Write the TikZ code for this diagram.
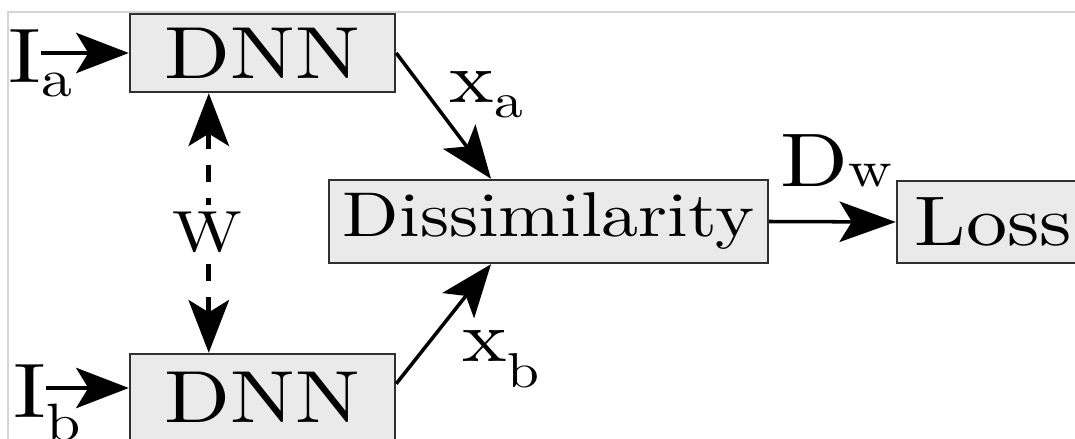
\documentclass[tikz,border=0pt]{standalone}
\usepackage{tikz}
\usetikzlibrary{arrows.meta, positioning, calc}
\definecolor{boxGray}{HTML}{EAEAEA}
\definecolor{frameGray}{HTML}{D4D4D4}
\definecolor{edgeDark}{HTML}{303030}
% text set at 10pt, then blown up (and stretched sideways)
\newcommand{\wide}[2]{\scalebox{\fpeval{1.17*#1}}[#1]{\fontsize{10}{12}\selectfont #2}}
\newcommand{\lab}[4]{\wide{#1}{#2\raisebox{-#4}{\scalebox{0.68}{#3}}}}

\begin{document}
\begin{tikzpicture}[x=0.1mm, y=-0.1mm,
      box/.style={draw=edgeDark, fill=boxGray, line width=0.7pt, inner sep=0pt},
      lbl/.style={inner sep=0pt, anchor=base west},
      arr/.style={-{Stealth[length=15pt, width=11.5pt, inset=3.5pt]}, line width=1pt},
      wdash/.style={{Stealth[length=15pt, width=11.5pt, inset=3.5pt]}-{Stealth[length=15pt, width=11.5pt, inset=3.5pt]},
        line width=1.3pt, dash pattern=on 4.7pt off 4.7pt}]
    \useasboundingbox (0,0) rectangle (1075,439);
    \clip (0,0) rectangle (1075,439);
    \draw[frameGray, line width=0.6pt] (8,439) -- (8,12) -- (1075,12);

    \node[box, minimum width=26.5mm, minimum height=7.8mm] (dnna) at (262.5,53) {\wide{2.1}{DNN}};
    \node[box, minimum width=26.5mm, minimum height=8.6mm] (dnnb) at (262.5,397) {\wide{2.1}{DNN}};
    \node[box, minimum width=43.9mm, minimum height=8.3mm] (diss) at (548.5,221.5) {\wide{1.8}{Dissimilarity}};
    \node[box, minimum width=19.3mm, minimum height=8.2mm] (loss) at (993.5,222) {\wide{2.0}{Loss}};

    \node[lbl] (ia) at (8,83) {\lab{2.2}{I}{a}{1.8pt}};
    \node[lbl] (ib) at (13,418) {\lab{2.2}{I}{b}{2.9pt}};
    \node[lbl] (xa) at (449,103) {\lab{2.05}{x}{a}{1.95pt}};
    \node[lbl] (xb) at (462,362) {\lab{2.05}{x}{b}{3.6pt}};
    \node[lbl] (dw) at (780,187) {\lab{2.16}{D}{w}{0pt}};

    \coordinate (ina) at (41,53);
    \coordinate (inb) at (46,388);
    \draw[arr] (ina) -- (ina -| dnna.west);
    \draw[arr] (inb) -- (inb -| dnnb.west);

    \draw[wdash] ($(dnna.south west)+(80,0)$) -- ($(dnnb.north west)+(80,0)$);
    \node[fill=white, inner sep=2pt] (w) at (207,232) {\wide{1.65}{W}};

    \draw[arr] (dnna.east) -- ($(diss.north)+(-57.5,0)$);
    \draw[arr] ($(dnnb.north east)+(0,31)$) -- ($(diss.south)+(-57.5,0)$);
    \draw[arr, -{Stealth[length=16pt, width=11.5pt, inset=3.5pt]}] (diss.east) -- (loss.west);
  \end{tikzpicture}
\end{document}
